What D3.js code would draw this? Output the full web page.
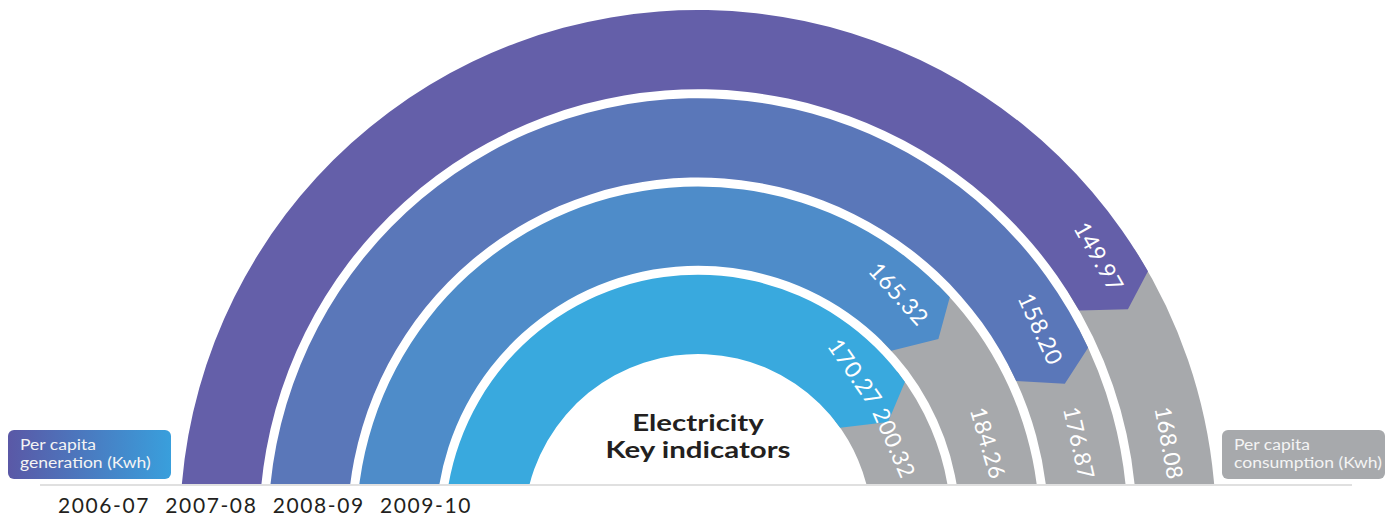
<!DOCTYPE html>
<html><head><meta charset="utf-8">
<script src="https://cdn.jsdelivr.net/npm/d3@7"></script>
<style>body{margin:0;background:#fff;} svg{display:block;font-family:Lato, "Open Sans", sans-serif;}</style>
</head><body><svg id="c" width="1388" height="518"></svg>
<script>
// ---- data ----
const years = ["2006-07", "2007-08", "2008-09", "2009-10"];
const generation = [149.97, 158.20, 165.32, 170.27];
const consumption = [168.08, 176.87, 184.26, 200.32];
// angle (degrees, clockwise from 12 o'clock) where each generation arc hands over to consumption
const splitDeg = [60.3, 65.2, 47.5, 54.8];
const legendLabels = [["Per capita", "generation (Kwh)"], ["Per capita", "consumption (Kwh)"]];
const titleLines = ["Electricity", "Key indicators"];

// ---- styles ----
const ringColors = ["#645fa9", "#5a77b9", "#4e8cc9", "#39a9de"];
const grayColor = "#a7a9ac";

const svg = d3.select("#c");
const cx = 698, cy = 528, baseY = 484;

const rScale = d3.scaleBand().domain(years.slice().reverse()).range([174, 518]).paddingInner(9 / 88);
const rad = d => d * Math.PI / 180;
const a0 = rad(-112), a1 = rad(112);

const defs = svg.append("defs");
defs.append("clipPath").attr("id", "clipTop").append("rect")
  .attr("x", 0).attr("y", 0).attr("width", 1388).attr("height", baseY);
const grad = defs.append("linearGradient").attr("id", "genGrad").attr("x1", "0").attr("x2", "1").attr("y1", "0").attr("y2", "0");
grad.append("stop").attr("offset", "0%").attr("stop-color", "#5a58a6");
grad.append("stop").attr("offset", "100%").attr("stop-color", "#399fdc");

const outer = svg.append("g").attr("clip-path", "url(#clipTop)");
const g = outer.append("g").attr("transform", `translate(${cx},${cy})`);
const arc = d3.arc();

const rings = years.map((y, i) => ({
  year: y, gen: generation[i], cons: consumption[i], split: rad(splitDeg[i]),
  r0: rScale(y), r1: rScale(y) + rScale.bandwidth(), color: ringColors[i]
}));

// gray consumption arcs
g.selectAll("path.cons").data(rings).join("path").attr("class", "cons")
  .attr("fill", grayColor)
  .attr("d", d => arc({innerRadius: d.r0, outerRadius: d.r1, startAngle: d.split - 0.05, endAngle: a1}));

// coloured generation arcs with chevron tip
function genPath(d) {
  const p = d3.path();
  const rm = (d.r0 + d.r1) / 2 + 4;
  const tip = d.split + 23 / rm;
  const c = a => a - Math.PI / 2;
  p.moveTo(d.r1 * Math.cos(c(a0)), d.r1 * Math.sin(c(a0)));
  p.arc(0, 0, d.r1, c(a0), c(d.split), false);
  p.lineTo(rm * Math.cos(c(tip)), rm * Math.sin(c(tip)));
  p.lineTo(d.r0 * Math.cos(c(d.split)), d.r0 * Math.sin(c(d.split)));
  p.arc(0, 0, d.r0, c(d.split), c(a0), true);
  p.closePath();
  return p.toString();
}
g.selectAll("path.gen").data(rings).join("path").attr("class", "gen")
  .attr("fill", d => d.color).attr("d", genPath);

// value labels
const fmt = d3.format(".2f");
function place(r, a) {
  return `translate(${r * Math.sin(a)},${-r * Math.cos(a)}) rotate(${a * 180 / Math.PI})`;
}
g.selectAll("text.genv").data(rings).join("text").attr("class", "genv")
  .attr("transform", d => { const rm = (d.r0 + d.r1) / 2 + 4; return place(rm, d.split + 1 / rm); })
  .attr("text-anchor", "end").attr("dy", "0.35em").attr("letter-spacing", 0.6)
  .attr("fill", "#fff").attr("font-size", 23).text(d => fmt(d.gen));

g.selectAll("text.consv").data(rings).join("text").attr("class", "consv")
  .attr("transform", d => {
    const rm = (d.r0 + d.r1) / 2;
    const a = Math.PI / 2 - Math.asin((cy - 443) / rm);
    return place(rm, a);
  })
  .attr("text-anchor", "middle").attr("dy", "0.35em").attr("letter-spacing", 0.5)
  .attr("fill", "#fff").attr("font-size", 22.5).text(d => fmt(d.cons));

// baseline
svg.append("line").attr("x1", 40).attr("x2", 1352).attr("y1", baseY + 1).attr("y2", baseY + 1)
  .attr("stroke", "#d6d6d6").attr("stroke-width", 1.5);

// title
svg.selectAll("text.title").data(titleLines).join("text").attr("class", "title")
  .attr("transform", (d, i) => `translate(${cx},${431 + i * 27}) scale(1.28,1)`)
  .attr("text-anchor", "middle")
  .attr("font-size", 23).attr("font-weight", 700).attr("fill", "#231f20").text(d => d);

// legend boxes
const boxes = [
  {x: 8, fill: "url(#genGrad)", lines: legendLabels[0]},
  {x: 1222, fill: grayColor, lines: legendLabels[1]}
];
const bg = svg.selectAll("g.box").data(boxes).join("g").attr("class", "box")
  .attr("transform", d => `translate(${d.x},430)`);
bg.append("rect").attr("width", 163).attr("height", 49).attr("rx", 6).attr("fill", d => d.fill);
bg.selectAll("text").data(d => d.lines).join("text").attr("fill", "#f4f4f4").attr("font-size", 15)
  .attr("transform", (d, i) => `translate(12,${20 + i * 18}) scale(1.17,1)`).text(d => d);

// year labels
const xYear = d3.scalePoint().domain(years).range([58, 380]);
svg.selectAll("text.year").data(years).join("text").attr("class", "year")
  .attr("x", d => xYear(d)).attr("y", 513)
  .attr("font-size", 21).attr("letter-spacing", 1.6).attr("fill", "#231f20").text(d => d);
</script></body></html>
